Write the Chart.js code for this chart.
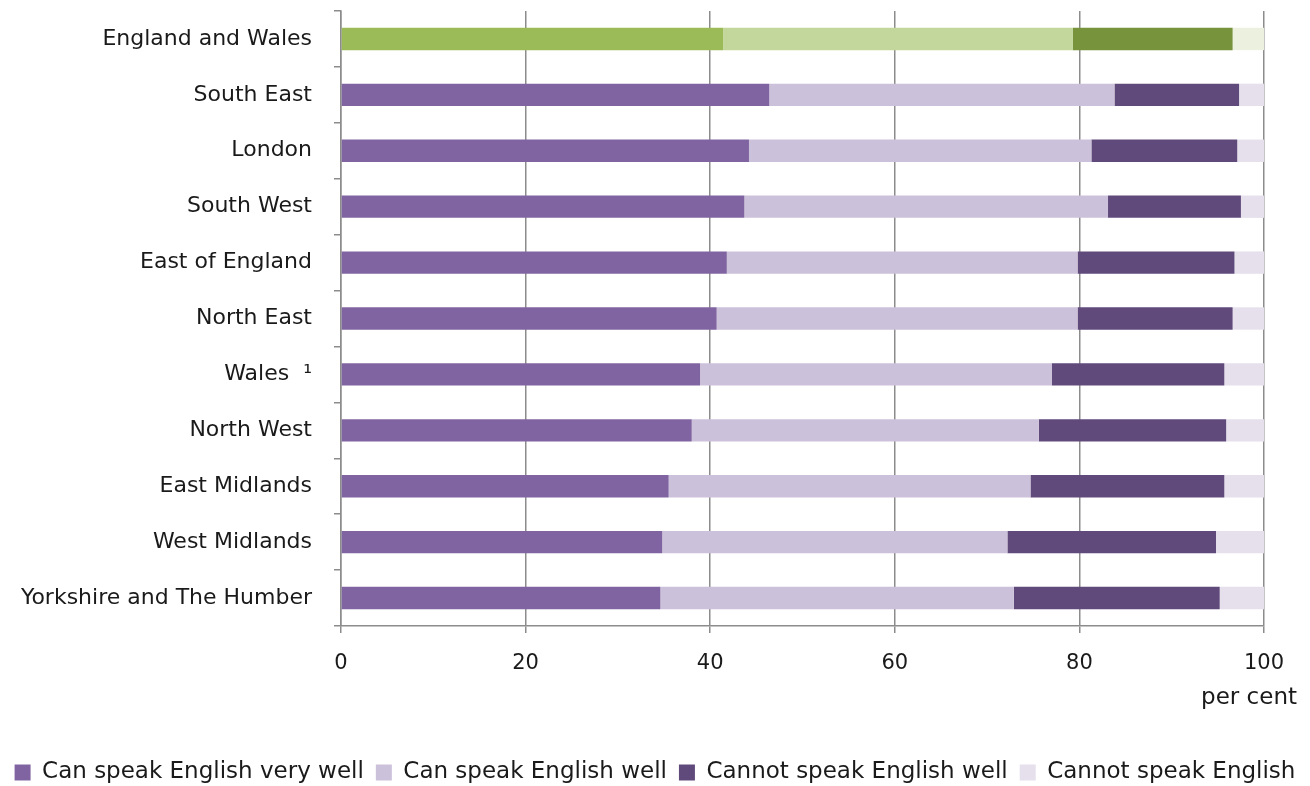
<!DOCTYPE html>
<html>
<head>
<meta charset="utf-8">
<script src="https://cdn.jsdelivr.net/npm/chart.js@4.4.0/dist/chart.umd.min.js"></script>
<style>
    html, body { margin: 0; padding: 0; background: #fff; }
    #wrap { width: 1310px; height: 786px; }
</style>
</head>
<body>
<div id="wrap"><canvas id="chart" width="1310" height="786"></canvas></div>
<script>
// Regions, top to bottom
const regions = [
    'England and Wales', 'South East', 'London', 'South West', 'East of England',
    'North East', 'Wales  \u00b9', 'North West', 'East Midlands', 'West Midlands',
    'Yorkshire and The Humber'
];

const seriesNames = [
    'Can speak English very well', 'Can speak English well',
    'Cannot speak English well', 'Cannot speak English'
];

// percent of people whose main language is not English
const veryWell   = [41.4, 46.4, 44.2, 43.7, 41.8, 40.7, 38.9, 38.0, 35.5, 34.8, 34.6];
const well       = [37.9, 37.4, 37.1, 39.4, 38.0, 39.1, 38.1, 37.6, 39.2, 37.4, 38.3];
const notWell    = [17.3, 13.5, 15.8, 14.4, 17.0, 16.8, 18.7, 20.3, 21.0, 22.6, 22.3];
const cannot     = [3.4, 2.7, 2.9, 2.5, 3.2, 3.4, 4.3, 4.1, 4.3, 5.2, 4.8];

const xTicks = [0, 20, 40, 60, 80, 100];

const purples = ['#8064a2', '#ccc1da', '#604a7b', '#e5e0ec'];
const greens  = ['#9bbb59', '#c3d69b', '#77933c', '#ebf1de'];

const FONT = '"DejaVu Sans", sans-serif';
const TEXT = '#1a1a1a';
const GRID = '#8c8c8c';

function colorsFor(i) {
    // first bar (England and Wales) is green, the rest purple
    return regions.map((r, idx) => idx === 0 ? greens[i] : purples[i]);
}

const allSeries = [veryWell, well, notWell, cannot];

const perCentLabel = {
    id: 'perCent',
    afterDraw(chart) {
        const ctx = chart.ctx;
        ctx.save();
        ctx.font = '23px ' + FONT;
        ctx.fillStyle = TEXT;
        ctx.textAlign = 'right';
        ctx.textBaseline = 'middle';
        ctx.fillText('per cent', chart.chartArea.right + 33, 698);
        ctx.restore();
    }
};

new Chart(document.getElementById('chart'), {
    type: 'bar',
    data: {
        labels: regions,
        datasets: allSeries.map((vals, i) => ({
            label: seriesNames[i],
            data: vals,
            backgroundColor: colorsFor(i),
            borderWidth: 0,
            categoryPercentage: 1,
            barPercentage: 0.4
        }))
    },
    options: {
        indexAxis: 'y',
        responsive: false,
        animation: false,
        layout: { padding: { top: 11, right: 0, left: 0, bottom: -8 } },
        scales: {
            x: {
                stacked: true,
                min: 0,
                max: 100,
                afterBuildTicks(scale) {
                    scale.ticks = xTicks.map(v => ({ value: v }));
                },
                afterFit(scale) {
                    scale.height = 123;
                    scale.paddingRight = 46;
                },
                grid: {
                    color: GRID,
                    lineWidth: 1.5,
                    tickLength: 7,
                    tickColor: GRID
                },
                border: { color: GRID, width: 1.5 },
                ticks: {
                    color: TEXT,
                    padding: 18,
                    font: { family: FONT, size: 21 }
                }
            },
            y: {
                stacked: true,
                afterFit(scale) {
                    scale.width = 341;
                    scale.paddingTop = 0;
                    scale.paddingBottom = 0;
                },
                grid: {
                    drawOnChartArea: false,
                    offset: true,
                    tickLength: 7,
                    tickColor: GRID,
                    lineWidth: 1.5
                },
                border: { color: GRID, width: 1.5 },
                ticks: {
                    color: TEXT,
                    padding: 22,
                    font: { family: FONT, size: 22 }
                }
            }
        },
        plugins: {
            tooltip: { enabled: false },
            legend: {
                position: 'bottom',
                labels: {
                    color: TEXT,
                    boxWidth: 16,
                    boxHeight: 16,
                    padding: 12,
                    font: { family: FONT, size: 23 },
                    generateLabels(chart) {
                        const items = Chart.defaults.plugins.legend.labels.generateLabels(chart);
                        items.forEach((it, i) => {
                            it.fillStyle = purples[i];
                            it.strokeStyle = purples[i];
                            it.lineWidth = 0;
                        });
                        return items;
                    }
                }
            }
        }
    },
    plugins: [perCentLabel]
});
</script>
</body>
</html>
